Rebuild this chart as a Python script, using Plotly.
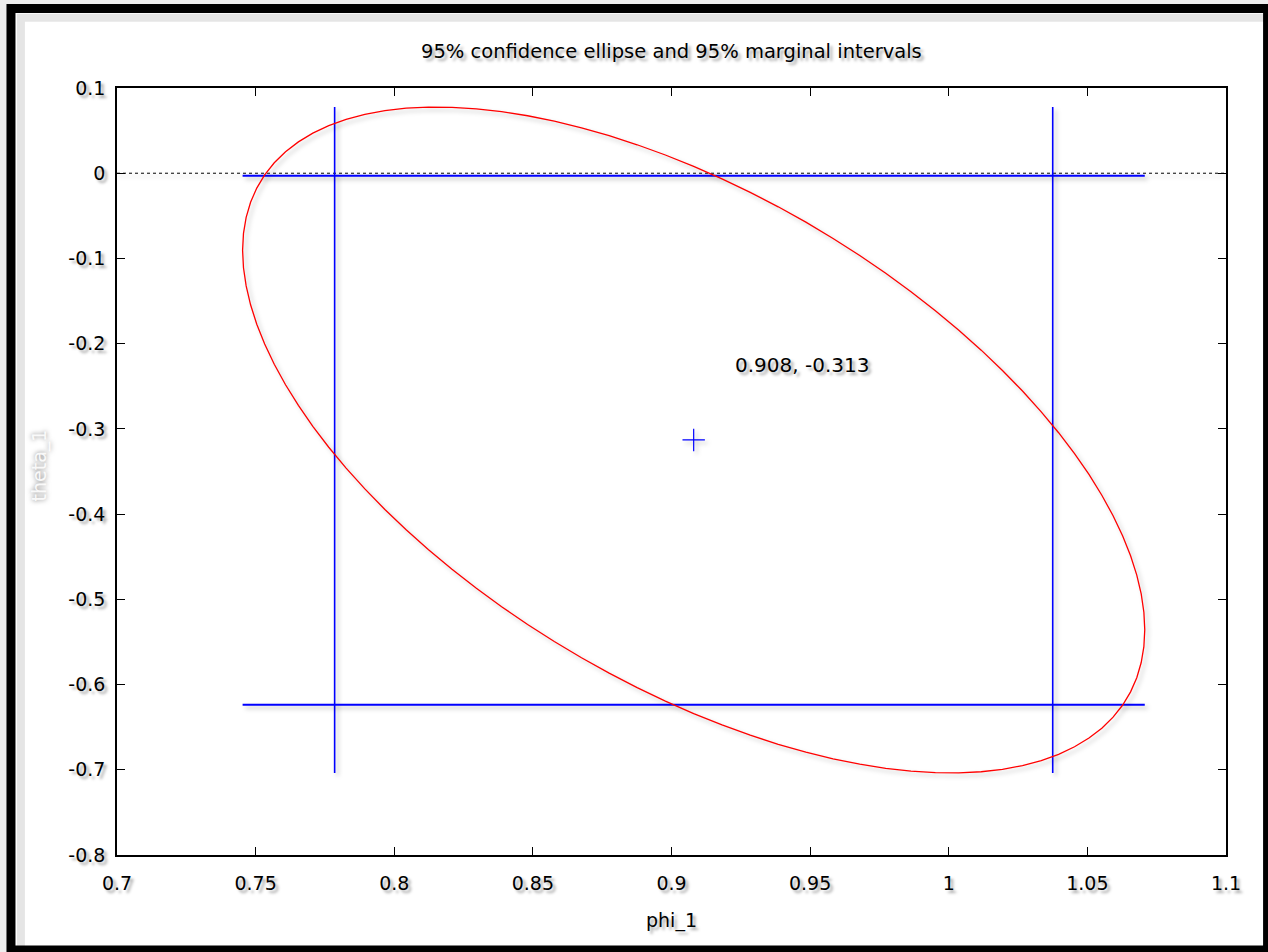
import numpy as np
import plotly.graph_objects as go

# ---- estimated values ----
center = [0.908, -0.313]            # point estimate (phi_1, theta_1)
phi_interval = [0.7785, 1.0375]     # 95% marginal interval of phi_1
theta_interval = [-0.0029, -0.6237] # 95% marginal interval of theta_1
ellipse_half = [0.1627, 0.3907]     # half-extents of the 95% ellipse (phi, theta)
rho = -0.57                         # correlation of the estimates
n_pts = 100

x_ticks = [0.7, 0.75, 0.8, 0.85, 0.9, 0.95, 1.0, 1.05, 1.1]
x_tick_text = ["0.7", "0.75", "0.8", "0.85", "0.9", "0.95", "1", "1.05", "1.1"]
y_ticks = [0.1, 0.0, -0.1, -0.2, -0.3, -0.4, -0.5, -0.6, -0.7, -0.8]
y_tick_text = ["0.1", "0", "-0.1", "-0.2", "-0.3", "-0.4", "-0.5", "-0.6", "-0.7", "-0.8"]

# ---- ellipse from the estimated covariance ----
t = np.linspace(0, 2 * np.pi, n_pts + 1)
ex = center[0] + ellipse_half[0] * np.cos(t)
ey = center[1] + ellipse_half[1] * (rho * np.cos(t) + np.sqrt(1 - rho ** 2) * np.sin(t))
phi_span = [center[0] - ellipse_half[0], center[0] + ellipse_half[0]]
theta_span = [center[1] + ellipse_half[1], center[1] - ellipse_half[1]]

FONT = "DejaVu Sans"
SHADOW = "3px 3px 3px rgba(0,0,0,0.35)"

fig = go.Figure()

# zero line (dotted)
fig.add_trace(go.Scatter(x=[x_ticks[0], x_ticks[-1]], y=[0, 0], mode="lines",
                         line=dict(color="black", width=1, dash="dot"),
                         hoverinfo="skip", showlegend=False))
# marginal interval lines
for xv in phi_interval:
    fig.add_trace(go.Scatter(x=[xv, xv], y=theta_span, mode="lines",
                             line=dict(color="blue", width=1.6),
                             showlegend=False))
for yv in theta_interval:
    fig.add_trace(go.Scatter(x=phi_span, y=[yv, yv], mode="lines",
                             line=dict(color="blue", width=2),
                             showlegend=False))
# ellipse
fig.add_trace(go.Scatter(x=ex, y=ey, mode="lines",
                         line=dict(color="red", width=1.3),
                         showlegend=False))
# center
fig.add_trace(go.Scatter(x=[center[0]], y=[center[1]], mode="markers",
                         marker=dict(symbol="cross-thin", size=16,
                                     line=dict(color="blue", width=1.2)),
                         showlegend=False))

fig.add_annotation(x=0.9222, y=-0.225, xref="x", yref="y",
                   text=f"{center[0]:.3f}, {center[1]:.3f}", showarrow=False,
                   xanchor="left", yanchor="middle",
                   font=dict(family=FONT, size=20, color="black", shadow=SHADOW))

# titles
fig.add_annotation(x=0.5, y=1.047, xref="paper", yref="paper",
                   text="95% confidence ellipse and 95% marginal intervals",
                   showarrow=False, xanchor="center", yanchor="middle",
                   font=dict(family=FONT, size=19.5, color="black", shadow=SHADOW))
fig.add_annotation(x=0.5, y=-0.086, xref="paper", yref="paper",
                   text="phi_1", showarrow=False, xanchor="center", yanchor="middle",
                   font=dict(family=FONT, size=19, color="black", shadow=SHADOW))
fig.add_annotation(x=-0.069, y=0.5085, xref="paper", yref="paper",
                   text="theta_1", showarrow=False, textangle=-90,
                   xanchor="center", yanchor="middle",
                   font=dict(family=FONT, size=19, color="rgba(255,255,255,0.9)",
                             shadow="0px 0px 5px rgba(0,0,0,0.6)"))

# outer frame
fig.add_shape(type="rect", xref="paper", yref="paper",
              x0=-0.0956, x1=1.0375, y0=-0.1239, y1=1.1037,
              line=dict(color="black", width=9), fillcolor="white", layer="below")
fig.add_shape(type="rect", xref="paper", yref="paper",
              x0=-0.0866, x1=1.0375, y0=-0.1239, y1=1.0917,
              line=dict(color="rgba(0,0,0,0.10)", width=8), fillcolor="rgba(0,0,0,0)",
              layer="below")

axis_common = dict(showgrid=False, zeroline=False, showline=True, mirror="ticks",
                   linecolor="black", linewidth=1.5, ticks="inside", ticklen=8,
                   tickwidth=1.2, tickcolor="black",
                   tickfont=dict(family=FONT, size=19, color="black", shadow=SHADOW))

fig.update_xaxes(range=[0.7, 1.1], tickvals=x_ticks, ticktext=x_tick_text,
                 ticklabelstandoff=10, **axis_common)
fig.update_yaxes(range=[-0.8, 0.1], tickvals=y_ticks, ticktext=y_tick_text,
                 ticklabelstandoff=6, **axis_common)

fig.update_layout(width=1268, height=952,
                  margin=dict(l=117, r=42, t=88, b=97),
                  paper_bgcolor="#eeeeee", plot_bgcolor="white",
                  font=dict(family=FONT))

post = """
document.body.style.margin = '0';
document.body.style.padding = '0';
var s = document.querySelectorAll('.scatterlayer .trace');
s.forEach(function(el){ el.style.filter = 'drop-shadow(3px 3px 2px rgba(0,0,0,0.25))'; });
"""
fig.write_html("out.html", post_script=post, config={"displayModeBar": False})
